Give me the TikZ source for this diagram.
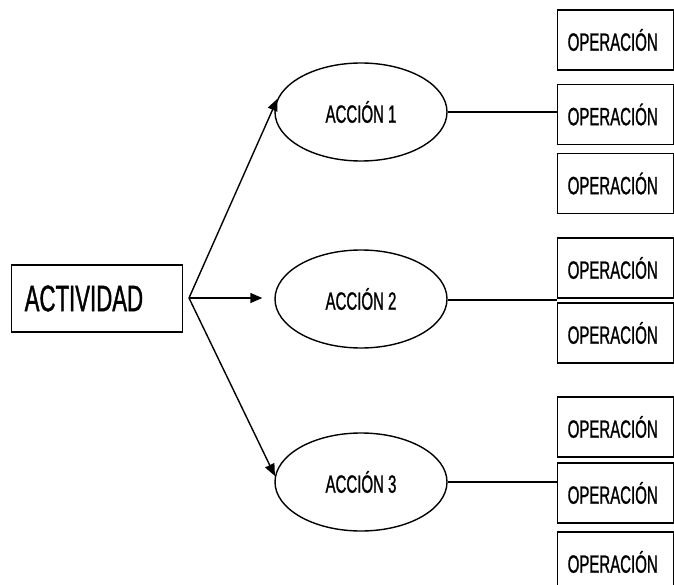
\documentclass[tikz,border=0pt]{standalone}
\usepackage{fontspec}
\newfontfamily\narrowfont[FakeStretch=0.6,FakeBold=1]{Liberation Sans}
\usetikzlibrary{shapes.geometric,arrows.meta}
\begin{document}
\begin{tikzpicture}[x=1pt,y=-1pt,font=\narrowfont\fontsize{25}{28}\selectfont]
  \tikzstyle{act box}=[draw,line width=1.4pt,text width=145pt,inner xsep=13pt,minimum height=67pt,align=left,anchor=west]
  \tikzstyle{accion}=[ellipse,draw,line width=1.4pt,minimum width=172pt,minimum height=98pt,inner sep=0pt]
  \tikzstyle{op box}=[draw,line width=1.4pt,text width=96pt,inner xsep=10pt,minimum height=60pt,align=left,anchor=west]
  \tikzstyle{flecha}=[line width=1.4pt,-{Triangle[length=12pt,width=10pt]}]
  \useasboundingbox (0,0) rectangle (674,585);
  \clip (0,0) rectangle (674,585);
  \node(act)[act box] at (11,298.5){\fontsize{37}{40}\selectfont ACTIVIDAD};
  \coordinate(o) at (189,298);
  \node(a1)[accion] at (361,112){ACCIÓN 1};
  \node(a2)[accion] at (361,299){ACCIÓN 2};
  \node(a3)[accion] at (361,482){ACCIÓN 3};
  \node(o1)[op box] at (557,40){OPERACIÓN};
  \node(o2)[op box] at (557,114.5){OPERACIÓN};
  \node(o3)[op box] at (557,183.5){OPERACIÓN};
  \node(o4)[op box] at (557,268){OPERACIÓN};
  \node(o5)[op box] at (557,333){OPERACIÓN};
  \node(o6)[op box] at (557,427){OPERACIÓN};
  \node(o7)[op box] at (557,493){OPERACIÓN};
  \node(o8)[op box] at (557,562){OPERACIÓN};
  \coordinate(j2) at (557,300);
  % flechas
  \draw[flecha] (o) -- (a1.171);
  \draw[flecha,shorten >=12pt] (o) -- (a2.west |- o);
  \draw[flecha] (o) -- (a3.176);
  % lineas a las operaciones
  \draw[line width=1.4pt] (a1.east) -- (a1.east -| o2.west);
  \draw[line width=1.4pt] (a2.east |- j2) -- (j2);
  \draw[line width=1.4pt] (a3.east) -- (a3.east -| o7.west);
\end{tikzpicture}
\end{document}
